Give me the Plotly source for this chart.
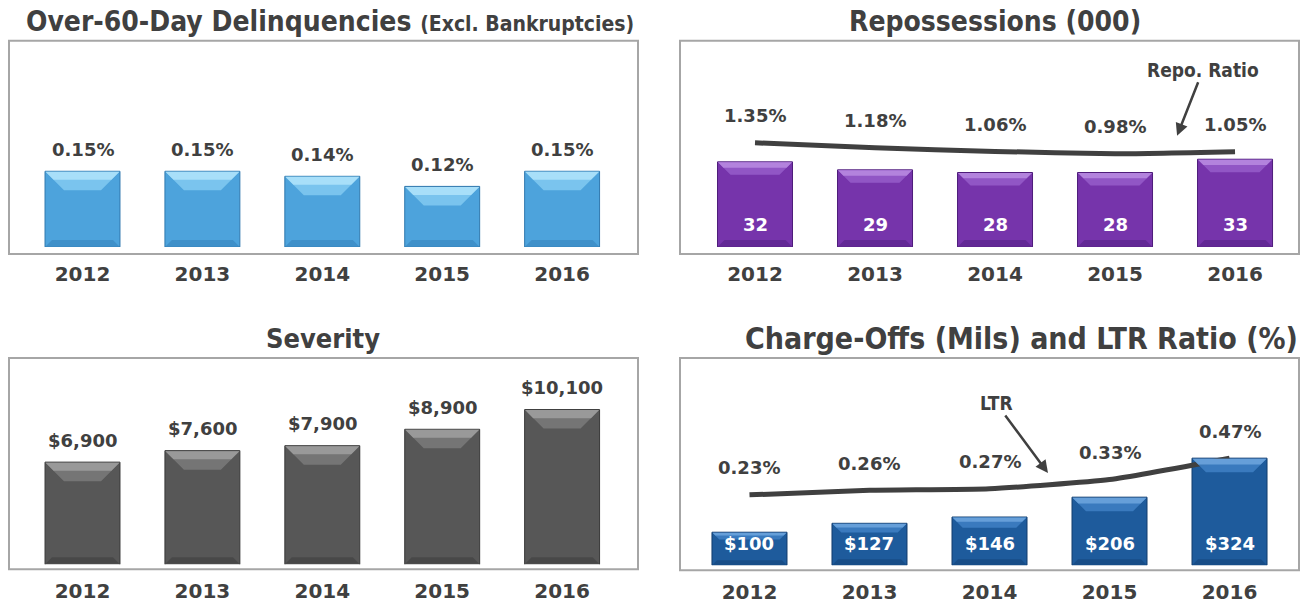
import plotly.graph_objects as go

# ---------------- data ----------------
years = ["2012", "2013", "2014", "2015", "2016"]
delinq_pct = [0.15, 0.15, 0.14, 0.12, 0.15]
repo_thousands = [32, 29, 28, 28, 33]
repo_ratio_pct = [1.35, 1.18, 1.06, 0.98, 1.05]
severity_usd = [6900, 7600, 7900, 8900, 10100]
chargeoffs_mils = [100, 127, 146, 206, 324]
ltr_ratio_pct = [0.23, 0.26, 0.27, 0.33, 0.47]

titles = [
    "Over-60-Day Delinquencies <span style='font-size:21px'>(Excl. Bankruptcies)</span>",
    "Repossessions (000)",
    "Severity",
    "Charge-Offs (Mils) and LTR Ratio (%)",
]

# ---------------- helpers ----------------
W, H = 1300, 604
def fx(p):
    return p / W
def fy(p):
    return 1 - p / H

TXT = "#404040"
FONT = "DejaVu Sans"
TFONT = "DejaVu Sans Condensed, DejaVu Sans"
idx = list(range(len(years)))
BAR_W = 0.625

panels = [
    dict(vals=delinq_pct, fmt=lambda v: f"{v:.2f}%", box=(9, 41, 638, 256), ydom=(249, 41),
         xr=[-0.613, 4.633], yr=[0, 0.4089], face="#4DA3DC", top="#7CC6EE", hi="#B0E4FA",
         bot="#3C8BC4", edge="#2F78AE", bev=19, inside=False, title_xy=(330, 22), tsize=28),
    dict(vals=repo_thousands, fmt=lambda v: f"{v}", box=(680, 41, 1299, 256), ydom=(249, 41),
         xr=[-0.625, 4.533], yr=[0, 77.6], face="#7634AB", top="#9258C6", hi="#B88BE0",
         bot="#5E2590", edge="#4E1C7A", bev=13, inside=True, title_xy=(995, 22), tsize=28,
         line=repo_ratio_pct, y2r=[-2.15, 4.78]),
    dict(vals=severity_usd, fmt=lambda v: f"${v:,}", box=(9, 361, 638, 574), ydom=(569, 361),
         xr=[-0.613, 4.633], yr=[680, 13240], face="#575757", top="#777777", hi="#A0A0A0",
         bot="#454545", edge="#383838", bev=19, inside=False, title_xy=(323, 341), tsize=27),
    dict(vals=chargeoffs_mils, fmt=lambda v: f"${v}", box=(680, 361, 1299, 575), ydom=(570, 361),
         xr=[-0.579, 4.579], yr=[0, 627], face="#1E5B9C", top="#3C7CC0", hi="#6FA6DE",
         bot="#174A82", edge="#123C6C", bev=14, inside=True, title_xy=(1021, 341), tsize=30,
         line=ltr_ratio_pct, y2r=[-0.231, 1.126]),
]

fig = go.Figure()
shapes = []
annotations = []
layout_axes = {}
overlay_n = 5

for k, p in enumerate(panels):
    n = k + 1
    xa = "x" if n == 1 else f"x{n}"
    ya = "y" if n == 1 else f"y{n}"
    xkey = "xaxis" if n == 1 else f"xaxis{n}"
    ykey = "yaxis" if n == 1 else f"yaxis{n}"
    x0, y0, x1, y1 = p["box"]

    layout_axes[xkey] = dict(
        domain=[fx(x0), fx(x1)], range=p["xr"], anchor=ya, tickvals=idx, ticktext=years,
        showgrid=False, zeroline=False, showline=False, ticks="", fixedrange=True,
        tickfont=dict(family=FONT, size=20, color=TXT, weight="bold"), ticklabelstandoff=13,
    )
    layout_axes[ykey] = dict(
        domain=[fy(p["ydom"][0]), fy(p["ydom"][1])], range=p["yr"], anchor=xa,
        visible=False, fixedrange=True,
    )

    fig.add_trace(go.Bar(
        x=idx, y=p["vals"], width=BAR_W, xaxis=xa, yaxis=ya, hoverinfo="skip",
        marker=dict(color=p["face"], line=dict(color=p["edge"], width=1)), showlegend=False,
    ))

    # box frame
    shapes.append(dict(type="rect", xref="paper", yref="paper", x0=fx(x0), x1=fx(x1),
                       y0=fy(y1), y1=fy(y0), line=dict(color="#A6A6A6", width=2),
                       fillcolor="rgba(0,0,0,0)", layer="below"))

    # bevel decoration anchored at each bar
    ppu_y = (p["ydom"][0] - p["ydom"][1]) / (p["yr"][1] - p["yr"][0])
    ppu_x = (x1 - x0) / (p["xr"][1] - p["xr"][0])
    half = BAR_W * ppu_x / 2
    for i, v in zip(idx, p["vals"]):
        hpx = (v - p["yr"][0]) * ppu_y
        b = min(p["bev"], 0.22 * hpx) if n == 4 else p["bev"]
        shapes.append(dict(
            type="path", xref=xa, yref=ya, xsizemode="pixel", ysizemode="pixel",
            xanchor=i, yanchor=v, fillcolor=p["top"], line=dict(width=0), opacity=0.95,
            path=f"M{-half+0.5},-0.5 L{half-0.5},-0.5 L{half-b},{-b} L{-half+b},{-b} Z",
        ))
        h2 = b * 0.45
        shapes.append(dict(
            type="path", xref=xa, yref=ya, xsizemode="pixel", ysizemode="pixel",
            xanchor=i, yanchor=v, fillcolor=p["hi"], line=dict(width=0), opacity=0.85,
            path=f"M{-half+0.5},-0.5 L{half-0.5},-0.5 L{half-h2},{-h2} L{-half+h2},{-h2} Z",
        ))
        bb = 7 if n != 4 else min(6, 0.15 * hpx)
        shapes.append(dict(
            type="path", xref=xa, yref=ya, xsizemode="pixel", ysizemode="pixel",
            xanchor=i, yanchor=p["yr"][0], fillcolor=p["bot"], line=dict(width=0), opacity=0.8,
            path=f"M{-half+0.5},0.5 L{half-0.5},0.5 L{half-bb},{bb} L{-half+bb},{bb} Z",
        ))
        # bar value labels
        if p["inside"]:
            annotations.append(dict(x=i, y=p["yr"][0], xref=xa, yref=ya, yshift=22,
                                    text=p["fmt"](v), showarrow=False,
                                    font=dict(family=FONT, size=18, color="white", weight="bold")))
        else:
            annotations.append(dict(x=i, y=v, xref=xa, yref=ya, yshift=22,
                                    text=p["fmt"](v), showarrow=False,
                                    font=dict(family=FONT, size=18, color=TXT, weight="bold")))

    # title
    tx, ty = p["title_xy"]
    annotations.append(dict(x=fx(tx), y=fy(ty), xref="paper", yref="paper", text=titles[k],
                            showarrow=False, xanchor="center", yanchor="middle",
                            font=dict(family=TFONT, size=p["tsize"], color=TXT, weight="bold")))

    # ratio line on overlay axis
    if "line" in p:
        y2 = f"y{overlay_n}"
        y2key = f"yaxis{overlay_n}"
        layout_axes[y2key] = dict(domain=layout_axes[ykey]["domain"], range=p["y2r"],
                                  overlaying=ya, anchor=xa, visible=False, fixedrange=True)
        fig.add_trace(go.Scatter(
            x=idx, y=p["line"], xaxis=xa, yaxis=y2, mode="lines", hoverinfo="skip",
            line=dict(color=TXT, width=5, shape="spline", smoothing=0.5), showlegend=False,
        ))
        for i, v in zip(idx, p["line"]):
            annotations.append(dict(x=i, y=v, xref=xa, yref=y2, yshift=27,
                                    text=f"{v:.2f}%", showarrow=False,
                                    font=dict(family=FONT, size=18, color=TXT, weight="bold")))
        p["y2name"] = y2
        overlay_n += 1

# arrow call-outs
annotations.append(dict(x=3.517, y=1.583, xref="x2", yref=panels[1]["y2name"],
                        text="Repo. Ratio", showarrow=True, ax=26, ay=-66,
                        arrowhead=2, arrowsize=1, arrowwidth=2.5, arrowcolor=TXT,
                        font=dict(family=TFONT, size=19, color=TXT, weight="bold")))
annotations.append(dict(x=2.4875, y=0.373, xref="x4", yref=panels[3]["y2name"],
                        text="LTR", showarrow=True, ax=-52, ay=-70,
                        arrowhead=2, arrowsize=1, arrowwidth=2.5, arrowcolor=TXT,
                        font=dict(family=TFONT, size=19, color=TXT, weight="bold")))

fig.update_layout(
    width=W, height=H, margin=dict(l=0, r=0, t=0, b=0),
    paper_bgcolor="white", plot_bgcolor="rgba(0,0,0,0)",
    showlegend=False, barmode="overlay",
    shapes=shapes, annotations=annotations, **layout_axes,
)

fig.write_html("out.html", config={"displayModeBar": False},
               post_script="document.body.style.margin='0px';document.body.style.overflow='hidden';")
